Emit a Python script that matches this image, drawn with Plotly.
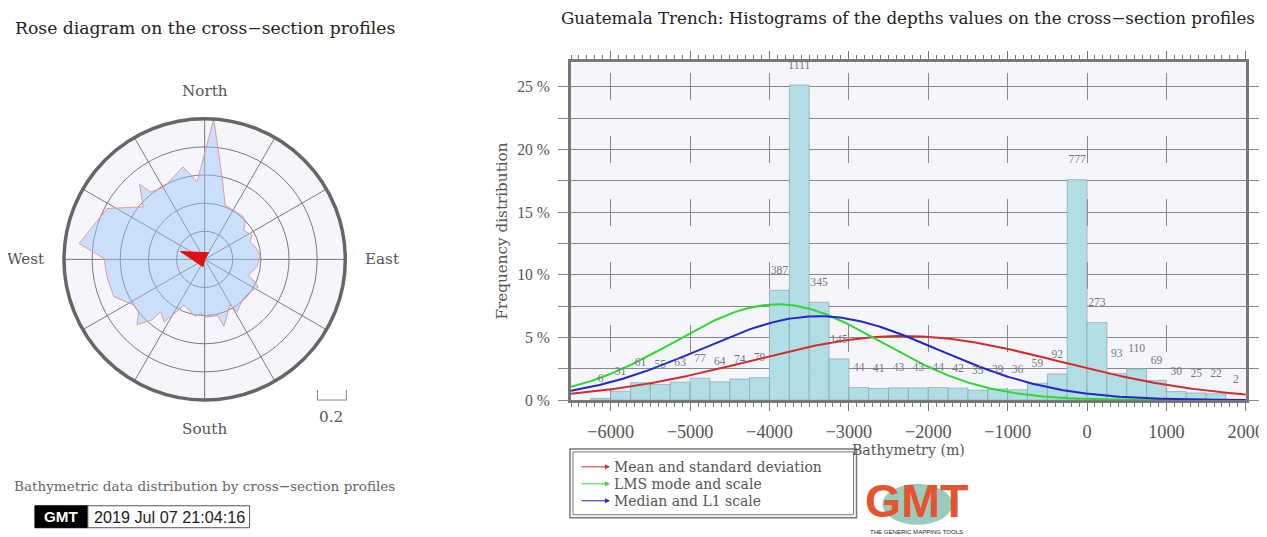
import numpy as np
import plotly.graph_objects as go

# Figure size; the page adds an 8 px body margin and the whole page is then
# fitted into the 1267 px window, so positions below are given in final
# picture pixels and converted through that fit.
W, H = 1267, 537
PAD = 8
S = W / (W + 2 * PAD)


def px(x):
    return (x - PAD) / S / W


def py(y):
    return 1 - (y - PAD) / S / H


def fs(n):
    return n / S


SERIF = "DejaVu Serif"
SERIF_N = "Liberation Serif"
SANS = "Liberation Sans"
BG = "#f5f6fc"

# ---------------- Histogram data ----------------
bin_left = [-6250, -6000, -5750, -5500, -5250, -5000, -4750, -4500, -4250,
            -4000, -3750, -3500, -3250, -3000, -2750, -2500, -2250, -2000,
            -1750, -1500, -1250, -1000, -750, -500, -250, 0, 250, 500, 750,
            1000, 1250, 1500, 1750]
counts = [6, 31, 61, 55, 63, 77, 64, 74, 79,
          387, 1111, 345, 145,
          44, 41, 43, 43, 44, 42, 35, 39, 36,
          59, 92, 777, 273, 93, 110, 69, 30, 25, 22, 2]
bin_width = 250

x_tick_vals = [-6000, -5000, -4000, -3000, -2000, -1000, 0, 1000, 2000]
x_tick_text = ["\u22126000", "\u22125000", "\u22124000", "\u22123000", "\u22122000",
               "\u22121000", "0", "1000", "2000"]
y_tick_vals = [0, 5, 10, 15, 20, 25]
y_tick_text = ["0 %", "5 %", "10 %", "15 %", "20 %", "25 %"]

# fitted normal curves (centre, scale)
curve_names = ["Mean and standard deviation", "LMS mode and scale", "Median and L1 scale"]
curve_centre = [-2310, -3900, -3380]
curve_scale = [1950, 1305, 1490]
curve_colors = ["#d42a2a", "#2ed82e", "#2424c8"]

# ---------------- Rose data ----------------
rose_azimuth = [3.7, 11.9, 20.9, 30.5, 42.5, 48.5, 53, 62.9, 69, 76, 86, 98,
                109.6, 116.9, 125.3, 135, 148.3, 151, 164, 167, 178, 184.6,
                189, 204.7, 207, 213, 220, 221, 226, 231.6, 237, 247.7, 259,
                270.6, 277.2, 297.6, 310.5, 319.1, 321.2, 330.3, 346.8, 354.4, 3.7]
rose_radius = [1.00, 0.60, 0.41, 0.406, 0.41, 0.385, 0.346, 0.378, 0.347, 0.37,
               0.396, 0.375, 0.331, 0.43, 0.397, 0.39, 0.437, 0.37, 0.496, 0.41,
               0.41, 0.384, 0.412, 0.357, 0.404, 0.529, 0.486, 0.57, 0.669,
               0.598, 0.598, 0.698, 0.705, 0.716, 0.90, 0.781, 0.575, 0.707,
               0.615, 0.588, 0.675, 0.553, 1.00]
mean_dir_azimuth = [288, 31, 0, 193, 288]
mean_dir_radius = [0.18, 0.055, 0.0, 0.053, 0.18]

# ---------------- Derived values ----------------
total = sum(counts)
percent = [100.0 * c / total for c in counts]
centres = [b + bin_width / 2 for b in bin_left]

fig = go.Figure()

# Rose diagram
fig.add_trace(go.Scatterpolar(
    r=rose_radius, theta=rose_azimuth, mode="lines", fill="toself",
    fillcolor="rgba(150,195,250,0.45)", line=dict(color="#e39a9a", width=1),
    hoverinfo="skip"))
fig.add_trace(go.Scatterpolar(
    r=mean_dir_radius, theta=mean_dir_azimuth, mode="lines", fill="toself",
    fillcolor="#e01010", line=dict(color="#e01010", width=1), hoverinfo="skip"))

# Histogram bars
fig.add_trace(go.Bar(
    x=centres, y=percent, width=bin_width,
    marker=dict(color="#b1dee4", line=dict(color="#8aa4a8", width=0.7)),
    hoverinfo="skip"))

# Normal curves
xs = np.linspace(-6500, 2000, 500)
for name, mu, sg, col in zip(curve_names, curve_centre, curve_scale, curve_colors):
    ys = 100.0 * bin_width / (sg * np.sqrt(2 * np.pi)) * np.exp(-(xs - mu) ** 2 / (2 * sg ** 2))
    fig.add_trace(go.Scatter(x=xs, y=ys, mode="lines", name=name,
                             line=dict(color=col, width=2), hoverinfo="skip"))

# Count labels above the bars
fig.add_trace(go.Scatter(
    x=centres, y=percent, mode="markers+text", text=[str(c) for c in counts],
    textposition="top center", marker=dict(size=20, color="rgba(0,0,0,0)"),
    textfont=dict(family=SERIF_N, size=fs(11.5), color="#777"), hoverinfo="skip"))

fig.update_layout(
    width=W, height=H, margin=dict(l=0, r=0, t=0, b=0),
    paper_bgcolor="white", plot_bgcolor=BG, showlegend=False,
    polar=dict(
        domain=dict(x=[px(205 - 141), px(205 + 141)], y=[py(260 + 141), py(260 - 141)]),
        bgcolor=BG,
        radialaxis=dict(range=[0, 1], dtick=0.2, tick0=0, showticklabels=False,
                        ticks="", showline=False, gridcolor="#7a7a7a", gridwidth=1),
        angularaxis=dict(rotation=90, direction="clockwise", dtick=30,
                         showticklabels=False, ticks="", linecolor="#666",
                         linewidth=3.5, gridcolor="#7a7a7a", gridwidth=1),
    ),
    xaxis=dict(
        domain=[px(572), px(1248)], range=[-6500, 2000],
        tickmode="array", tickvals=x_tick_vals, ticktext=x_tick_text,
        tickfont=dict(family=SERIF_N, size=fs(18), color="#555"),
        ticks="outside", ticklen=8, tickcolor="#777", ticklabelstandoff=5,
        ticklabeloverflow="allow",
        showline=True, linewidth=3, linecolor="#777", mirror="allticks",
        showgrid=True, gridcolor="#888", gridwidth=1, griddash="0px,11px,27px,25px",
        zeroline=False,
        minor=dict(dtick=100, tick0=0, ticks="outside", ticklen=4, tickcolor="#777",
                   showgrid=False),
        title=dict(text="Bathymetry (m)", font=dict(family=SERIF, size=fs(14), color="#555"),
                   standoff=2),
    ),
    yaxis=dict(
        domain=[py(401), py(62)], range=[0, 27],
        tickmode="array", tickvals=y_tick_vals, ticktext=y_tick_text,
        tickfont=dict(family=SERIF_N, size=fs(15.5), color="#555"),
        ticks="outside", ticklen=10, tickcolor="#888", ticklabelstandoff=5,
        showline=True, linewidth=3, linecolor="#777", mirror="allticks",
        showgrid=True, gridcolor="#888", gridwidth=1, zeroline=False,
        minor=dict(dtick=2.5, tick0=0, ticks="outside", ticklen=10, tickcolor="#888",
                   showgrid=True, gridcolor="#888", gridwidth=1),
        title=dict(text="Frequency distribution", font=dict(family=SERIF, size=fs(15), color="#555"),
                   standoff=6),
    ),
)

ann = []


def text(x, y, s, size, color="#555", family=SERIF, xanchor="center", **kw):
    ann.append(dict(x=px(x), y=py(y), xref="paper", yref="paper", text=s,
                    xanchor=xanchor, yanchor="middle",
                    showarrow=False, font=dict(family=family, size=fs(size), color=color), **kw))


text(205, 28, "Rose diagram on the cross\u2212section profiles", 17, "#222")
text(910, 18, "Guatemala Trench: Histograms of the depths values on the cross\u2212section profiles", 16.5, "#222")
text(205, 91, "North", 15)
text(205, 430, "South", 15)
text(26, 260, "West", 15)
text(383, 260, "East", 15)
text(332, 418, "0.2", 15)
text(205, 487, "Bathymetric data distribution by cross\u2212section profiles", 13.4, "#666")
text(61, 518, "<b>GMT</b>", 15, "white", SANS)
text(170, 518, "2019 Jul 07 21:04:16", 16, "#222", SANS)

# legend entries (manual, with arrows)
rows = [468, 485, 502]
for name, col, yy in zip(curve_names, curve_colors, rows):
    ann.append(dict(x=px(611), y=py(yy), xref="paper", yref="paper", ax=-30, ay=0,
                    text="", showarrow=True, arrowhead=2, arrowsize=1, arrowwidth=1,
                    arrowcolor=col))
    text(613, yy, name, 13.8, "#555", xanchor="left")

# GMT logo text
text(918, 502, "<b>GMT</b>", 46, "#e5532f", SANS)
text(918, 533, "THE GENERIC MAPPING TOOLS", 6, "#222", SANS)

shapes = []


def rect(x0, y0, x1, y1, line_color, fill=None, width=1):
    shapes.append(dict(type="rect", xref="paper", yref="paper", x0=px(x0), x1=px(x1),
                       y0=py(y1), y1=py(y0), line=dict(color=line_color, width=width),
                       fillcolor=fill, layer="below"))


# legend double box
rect(571, 450, 858, 519, "#777", None, 1.5)
rect(574, 453, 855, 516, "#777", None, 1)
# time stamp
rect(35, 507, 88, 529, "#000", "#000", 1)
rect(88, 507, 250, 529, "#555", "white", 1)
# logo globe
shapes.append(dict(type="circle", xref="paper", yref="paper", x0=px(884), x1=px(954),
                   y0=py(526), y1=py(485), line=dict(width=0),
                   fillcolor="rgba(120,185,170,0.75)", layer="below"))
# scale bar of the rose
shapes.append(dict(type="path", xref="paper", yref="paper",
                   path=f"M {px(318)},{py(391)} L {px(318)},{py(401)} L {px(347)},{py(401)} L {px(347)},{py(391)}",
                   line=dict(color="#888", width=1)))

fig.update_layout(annotations=ann, shapes=shapes)
fig.write_html("out.html", config={"displayModeBar": False})
